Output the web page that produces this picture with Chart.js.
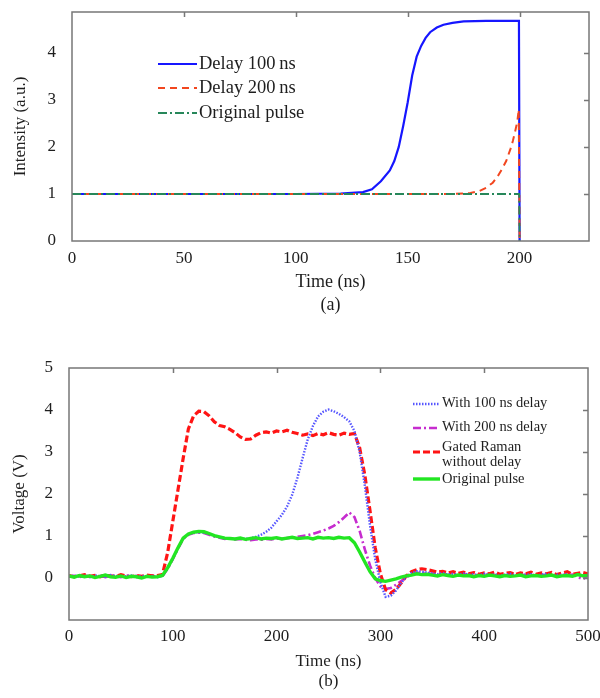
<!DOCTYPE html>
<html>
<head>
<meta charset="utf-8">
<script src="https://cdn.jsdelivr.net/npm/chart.js@4.4.1/dist/chart.umd.min.js"></script>
<style>
    body { margin: 0; background: #fff; }
    canvas { position: absolute; left: 0; }
    #graficoA { top: 0; }
    #graficoB { top: 330px; }
</style>
</head>
<body>
<canvas id="graficoA" width="600" height="330"></canvas>
<canvas id="graficoB" width="600" height="368"></canvas>
<script>
// (a) simulated intensity
const tempoA100 = [0, 100, 120, 130, 134, 138, 142, 144, 146, 148, 150, 152, 154, 156, 158, 160, 163, 166, 170, 175, 185, 199.7, 200];
const intensA100 = [1, 1, 1.01, 1.04, 1.1, 1.27, 1.5, 1.7, 2.0, 2.45, 2.95, 3.52, 3.92, 4.15, 4.32, 4.44, 4.54, 4.6, 4.64, 4.67, 4.68, 4.68, 0];
const tempoA200 = [0, 170, 178, 182, 185, 188, 190, 192, 194, 196, 197, 198, 199, 199.6, 200];
const intensA200 = [1, 1, 1.02, 1.06, 1.13, 1.24, 1.36, 1.52, 1.7, 1.97, 2.13, 2.33, 2.55, 2.8, 0];
const tempoOrig = [0, 199.8, 200];
const intensOrig = [1, 1, 0];

// (b) measured voltage
const tempoB = [0, 5, 10, 15, 20, 25, 30, 35, 40, 45, 50, 55, 60, 65, 70, 75, 80, 85, 90, 95,
    100, 105, 110, 115, 120, 125, 130, 135, 140, 145, 150, 155, 160, 165, 170, 175, 180, 185, 190, 195,
    200, 205, 210, 215, 220, 225, 230, 235, 240, 245, 250, 255, 260, 265, 270, 275, 280, 285, 290, 295,
    300, 305, 310, 315, 320, 325, 330, 335, 340, 345, 350, 355, 360, 365, 370, 375, 380, 385, 390, 395,
    400, 405, 410, 415, 420, 425, 430, 435, 440, 445, 450, 455, 460, 465, 470, 475, 480, 485, 490, 495, 500];

const volt100 = [0.04, 0.06, 0.03, 0.05, 0.02, 0.06, 0.04, 0.03, 0.07, 0.05, 0.03, 0.04, 0.06, 0.02, 0.05, 0.03, 0.04, 0.02, 0.05,
    0.23, 0.46, 0.71, 0.94, 1.04, 1.08, 1.09, 1.08, 1.05, 1.00, 0.97, 0.95, 0.94, 0.93, 0.94, 0.93, 0.95, 0.98, 1.03, 1.10, 1.20,
    1.35, 1.50, 1.70, 1.98, 2.38, 2.85, 3.30, 3.62, 3.85, 3.96, 4.01, 3.97, 3.91, 3.83, 3.73,
    3.50, 3.00, 2.20, 1.25, 0.45, -0.10, -0.45, -0.42, -0.30, -0.12, 0.03, 0.12, 0.16, 0.15, 0.13, 0.11, 0.09, 0.12, 0.08, 0.10,
    0.07, 0.11, 0.08, 0.09, 0.06, 0.10, 0.07, 0.09, 0.05, 0.08, 0.10, 0.06, 0.08, 0.07, 0.09, 0.05, 0.08, 0.10, 0.06, 0.08,
    0.07, 0.09, 0.05, 0.08, 0.06, 0.07];

const volt200 = [0.03, 0.05, 0.02, 0.06, 0.04, 0.03, 0.06, 0.02, 0.05, 0.04, 0.02, 0.06, 0.03, 0.05, 0.02, 0.04, 0.06, 0.03, 0.04,
    0.22, 0.45, 0.70, 0.93, 1.03, 1.07, 1.08, 1.07, 1.03, 0.99, 0.96, 0.93, 0.94, 0.92, 0.93, 0.91, 0.90, 0.92, 0.91, 0.93, 0.92,
    0.94, 0.93, 0.95, 0.96, 0.98, 1.00, 1.02, 1.05, 1.09, 1.13, 1.18, 1.24, 1.33, 1.44, 1.56,
    1.45, 1.12, 0.68, 0.30, 0.00, -0.20, -0.26, -0.24, -0.16, -0.07, 0.02, 0.08, 0.12, 0.13, 0.11, 0.10, 0.08, 0.09, 0.07, 0.10,
    0.06, 0.08, 0.09, 0.05, 0.08, 0.07, 0.09, 0.06, 0.08, 0.05, 0.09, 0.07, 0.06, 0.08, 0.05, 0.09, 0.06, 0.08, 0.07, 0.05,
    0.09, 0.06, 0.08, 0.03, -0.03, 0.06];

const voltGated = [0.06, 0.03, 0.05, 0.08, 0.04, 0.06, 0.03, 0.07, 0.05, 0.04, 0.08, 0.05, 0.03, 0.06, 0.04, 0.07, 0.05, 0.06, 0.08,
    0.60, 1.35, 2.10, 2.85, 3.55, 3.86, 3.97, 3.96, 3.86, 3.72, 3.63, 3.60, 3.54, 3.46, 3.36, 3.30, 3.31, 3.40, 3.46, 3.48, 3.45,
    3.50, 3.48, 3.52, 3.47, 3.44, 3.40, 3.43, 3.39, 3.44, 3.41, 3.46, 3.42, 3.40, 3.45, 3.42,
    3.44, 3.10, 2.45, 1.60, 0.72, 0.10, -0.28, -0.36, -0.27, -0.12, 0.05, 0.15, 0.20, 0.22, 0.20, 0.17, 0.14, 0.16, 0.12, 0.15,
    0.11, 0.14, 0.10, 0.13, 0.09, 0.12, 0.10, 0.14, 0.09, 0.11, 0.13, 0.08, 0.12, 0.10, 0.14, 0.09, 0.12, 0.10, 0.13, 0.08,
    0.12, 0.15, 0.09, 0.11, 0.13, 0.10];

const voltOrig = [0.05, 0.02, 0.06, 0.03, 0.05, 0.01, 0.04, 0.07, 0.03, 0.02, 0.05, 0.01, 0.04, 0.03, 0.00, 0.04, 0.02, 0.03, 0.06,
    0.24, 0.47, 0.72, 0.95, 1.05, 1.09, 1.11, 1.10, 1.06, 1.01, 0.98, 0.95, 0.94, 0.93, 0.95, 0.92, 0.94, 0.96, 0.93, 0.95, 0.94,
    0.96, 0.93, 0.95, 0.97, 0.94, 0.95, 0.96, 0.93, 0.97, 0.95, 0.96, 0.94, 0.97, 0.95, 0.96,
    0.84, 0.62, 0.38, 0.15, -0.02, -0.06, -0.08, -0.05, -0.02, 0.02, 0.05, 0.07, 0.10, 0.08, 0.09, 0.07, 0.05, 0.08, 0.06, 0.04,
    0.07, 0.05, 0.06, 0.03, 0.06, 0.04, 0.07, 0.05, 0.03, 0.06, 0.04, 0.05, 0.07, 0.03, 0.05, 0.06, 0.04, 0.05, 0.07, 0.03,
    0.05, 0.06, 0.04, 0.08, 0.05, 0.06];

const fonte = 'Liberation Serif';
const corTexto = '#1e1e1e';

function pontos(xs, ys) {
    return xs.map((x, i) => ({ x: x, y: ys[i] }));
}

// fixes the scale box so the plot area lands where the figure has it
function tamanhoFixo(prop, valor) {
    return s => {
        s[prop] = valor;
        s.paddingTop = 0;
        s.paddingBottom = 0;
        s.paddingLeft = 0;
        s.paddingRight = 0;
    };
}

// box around the plot area + inward ticks on top and right
const moldura = {
    id: 'moldura',
    afterDatasetsDraw(chart, args, opts) {
        const { ctx, chartArea: a, scales: { x, y } } = chart;
        ctx.save();
        ctx.strokeStyle = opts.cor;
        ctx.lineWidth = opts.largura;
        ctx.strokeRect(a.left, a.top, a.right - a.left, a.bottom - a.top);
        ctx.beginPath();
        x.ticks.forEach(t => {
            if (t.value <= x.min || t.value >= x.max) return;
            const px = Math.round(x.getPixelForValue(t.value)) + 0.5;
            ctx.moveTo(px, a.top);
            ctx.lineTo(px, a.top + opts.tam);
        });
        y.ticks.forEach(t => {
            if (t.value <= y.min || t.value >= y.max) return;
            const py = Math.round(y.getPixelForValue(t.value)) + 0.5;
            ctx.moveTo(a.right, py);
            ctx.lineTo(a.right - opts.tam, py);
        });
        ctx.stroke();
        ctx.restore();
    }
};

// legend drawn inside the plot area
const legendaInterna = {
    id: 'legendaInterna',
    afterDraw(chart, args, opts) {
        const ctx = chart.ctx;
        ctx.save();
        ctx.font = opts.tamFonte + 'px "' + fonte + '"';
        ctx.textBaseline = 'middle';
        ctx.textAlign = 'left';
        opts.itens.forEach(item => {
            const ds = chart.data.datasets[item.ds];
            ctx.strokeStyle = ds.borderColor;
            ctx.lineWidth = ds.borderWidth;
            ctx.setLineDash(ds.borderDash || []);
            ctx.beginPath();
            ctx.moveTo(opts.x0, item.yLinha);
            ctx.lineTo(opts.x1, item.yLinha);
            ctx.stroke();
            ctx.setLineDash([]);
            ctx.fillStyle = corTexto;
            const linhas = ds.label.split('\n');
            linhas.forEach((txt, i) => {
                ctx.fillText(txt, opts.x1 + 2, item.yTexto + i * opts.entreLinhas);
            });
        });
        ctx.restore();
    }
};

new Chart(document.getElementById('graficoA'), {
    type: 'line',
    data: {
        datasets: [{
                label: 'Delay 100\u2009ns',
                data: pontos(tempoA100, intensA100),
                borderColor: '#1616ff',
                borderWidth: 2.2,
                order: 3
            },
            {
                label: 'Delay 200\u2009ns',
                data: pontos(tempoA200, intensA200),
                borderColor: '#f2461f',
                borderWidth: 2,
                borderDash: [7, 5],
                order: 2
            },
            {
                label: 'Original pulse',
                data: pontos(tempoOrig, intensOrig),
                borderColor: '#27875a',
                borderWidth: 1.8,
                borderDash: [9, 3, 2, 3],
                order: 1
            }
        ]
    },
    options: {
        responsive: false,
        animation: false,
        elements: { point: { radius: 0 }, line: { tension: 0 } },
        layout: { padding: { top: 12, right: 11, left: 0, bottom: 0 } },
        scales: {
            x: {
                type: 'linear',
                min: 0,
                max: 231,
                ticks: { stepSize: 50, includeBounds: false, padding: 7, color: corTexto, font: { family: fonte, size: 17 } },
                grid: { display: false, drawTicks: false },
                border: { display: false },
                title: { display: true, text: ['Time (ns)', '(a)'], color: corTexto, font: { family: fonte, size: 18, lineHeight: 1.28 }, padding: { top: 0, bottom: 13 } },
                afterFit: tamanhoFixo('height', 89)
            },
            y: {
                min: 0,
                max: 4.87,
                ticks: { stepSize: 1, includeBounds: false, padding: 16, color: corTexto, font: { family: fonte, size: 17 } },
                grid: { display: false, drawTicks: false },
                border: { display: false },
                title: { display: true, text: 'Intensity (a.u.)', color: corTexto, font: { family: fonte, size: 17 }, padding: { top: 10, bottom: 0 } },
                afterFit: tamanhoFixo('width', 72)
            }
        },
        plugins: {
            legend: { display: false },
            tooltip: { enabled: false },
            moldura: { cor: '#777', largura: 1.5, tam: 5 },
            legendaInterna: {
                x0: 158, x1: 197, tamFonte: 18.5, entreLinhas: 20,
                itens: [
                    { ds: 0, yLinha: 64, yTexto: 64 },
                    { ds: 1, yLinha: 88, yTexto: 88 },
                    { ds: 2, yLinha: 113, yTexto: 113 }
                ]
            }
        }
    },
    plugins: [moldura, legendaInterna]
});

new Chart(document.getElementById('graficoB'), {
    type: 'line',
    data: {
        datasets: [{
                label: 'With 100 ns delay',
                data: pontos(tempoB, volt100),
                borderColor: '#5656ff',
                borderWidth: 2.4,
                borderDash: [1.5, 1.5],
                order: 2
            },
            {
                label: 'With 200 ns delay',
                data: pontos(tempoB, volt200),
                borderColor: '#c62ccf',
                borderWidth: 2.6,
                borderDash: [8, 3, 2, 3],
                order: 4
            },
            {
                label: 'Gated Raman\nwithout delay',
                data: pontos(tempoB, voltGated),
                borderColor: '#ff1414',
                borderWidth: 3.2,
                borderDash: [7, 3],
                order: 3
            },
            {
                label: 'Original pulse',
                data: pontos(tempoB, voltOrig),
                borderColor: '#22e622',
                borderWidth: 3.4,
                order: 1
            }
        ]
    },
    options: {
        responsive: false,
        animation: false,
        elements: { point: { radius: 0 }, line: { tension: 0 } },
        layout: { padding: { top: 38, right: 12, left: 0, bottom: 0 } },
        scales: {
            x: {
                type: 'linear',
                min: 0,
                max: 500,
                ticks: { stepSize: 100, padding: 6, color: corTexto, font: { family: fonte, size: 17 } },
                grid: { display: false, drawTicks: false },
                border: { display: false },
                title: { display: true, text: ['Time (ns)', '(b)'], color: corTexto, font: { family: fonte, size: 17, lineHeight: 1.18 }, padding: { top: 0, bottom: 6 } },
                afterFit: tamanhoFixo('height', 78)
            },
            y: {
                min: -1,
                max: 5,
                ticks: {
                    stepSize: 1,
                    padding: 16,
                    color: corTexto,
                    font: { family: fonte, size: 17 },
                    callback: v => (v < 0 ? '' : v)
                },
                grid: { display: false, drawTicks: false },
                border: { display: false },
                title: { display: true, text: 'Voltage (V)', color: corTexto, font: { family: fonte, size: 17 }, padding: { top: 9, bottom: 0 } },
                afterFit: tamanhoFixo('width', 69)
            }
        },
        plugins: {
            legend: { display: false },
            tooltip: { enabled: false },
            moldura: { cor: '#777', largura: 1.5, tam: 5 },
            legendaInterna: {
                x0: 413, x1: 440, tamFonte: 14.5, entreLinhas: 15,
                itens: [
                    { ds: 0, yLinha: 74, yTexto: 73 },
                    { ds: 1, yLinha: 98, yTexto: 97 },
                    { ds: 2, yLinha: 122, yTexto: 117 },
                    { ds: 3, yLinha: 149, yTexto: 149 }
                ]
            }
        }
    },
    plugins: [moldura, legendaInterna]
});
</script>
</body>
</html>
